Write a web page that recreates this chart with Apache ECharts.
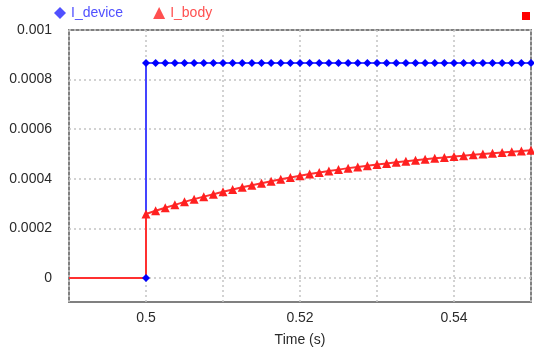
<!DOCTYPE html>
<html>
<head>
<meta charset="utf-8">
<script src="https://cdn.jsdelivr.net/npm/echarts@6/dist/echarts.min.js"></script>
<style>
  html, body { margin: 0; padding: 0; background: #fff; }
  #box { width: 534px; height: 352px; }
</style>
</head>
<body>
<div id="box"></div>
<script>
// step at t = 0.5 s: values before the step (first point has no marker)
const preTime = [0.49, 0.5]
const devicePre = [0, 0]
const bodyPre = [0, 0]

// sampled points after the step, every 0.00125 s
const time = [
  0.5, 0.50125, 0.5025, 0.50375, 0.505, 0.50625, 0.5075, 0.50875,
  0.51, 0.51125, 0.5125, 0.51375, 0.515, 0.51625, 0.5175, 0.51875,
  0.52, 0.52125, 0.5225, 0.52375, 0.525, 0.52625, 0.5275, 0.52875,
  0.53, 0.53125, 0.5325, 0.53375, 0.535, 0.53625, 0.5375, 0.53875,
  0.54, 0.54125, 0.5425, 0.54375, 0.545, 0.54625, 0.5475, 0.54875,
  0.55
]
const iDevice = [
  0.000867, 0.000867, 0.000867, 0.000867, 0.000867, 0.000867, 0.000867, 0.000867,
  0.000867, 0.000867, 0.000867, 0.000867, 0.000867, 0.000867, 0.000867, 0.000867,
  0.000867, 0.000867, 0.000867, 0.000867, 0.000867, 0.000867, 0.000867, 0.000867,
  0.000867, 0.000867, 0.000867, 0.000867, 0.000867, 0.000867, 0.000867, 0.000867,
  0.000867, 0.000867, 0.000867, 0.000867, 0.000867, 0.000867, 0.000867, 0.000867,
  0.000867
]
const iBody = [
  0.000258, 0.000271, 0.000283, 0.000295, 0.000307, 0.000318, 0.000328, 0.000338,
  0.000348, 0.000357, 0.000366, 0.000374, 0.000382, 0.000390, 0.000398, 0.000405,
  0.000412, 0.000419, 0.000425, 0.000431, 0.000437, 0.000443, 0.000448, 0.000453,
  0.000458, 0.000462, 0.000467, 0.000471, 0.000475, 0.000479, 0.000483, 0.000486,
  0.000490, 0.000493, 0.000497, 0.000500, 0.000503, 0.000506, 0.000509, 0.000512,
  0.000515
]

const xTicks = [0.5, 0.52, 0.54]
const yTicks = [0, 0.0002, 0.0004, 0.0006, 0.0008, 0.001]

const blue = '#0000ff'
const red = '#ff2020'

// pre-step points first, only the one at t = 0.5 gets a marker
function buildData (pre, vals) {
  const out = []
  preTime.forEach((t, i) => {
    out.push({ value: [t, pre[i]], symbol: i === 0 ? 'none' : undefined })
  })
  time.forEach((t, i) => out.push([t, vals[i]]))
  return out
}
const deviceData = buildData(devicePre, iDevice)
const bodyData = buildData(bodyPre, iBody).map((d, i) => i < 2 ? { value: d.value, symbol: 'none' } : d)

const labelFont = { color: '#2a2a2a', fontSize: 14, fontFamily: 'Liberation Sans, Arial, sans-serif' }
const dotted = { lineStyle: { color: '#c4c4c4', type: [2, 3], width: 1.5 } }

const myChart = echarts.init(document.getElementById('box'))
myChart.setOption({
  animation: false,
  grid: {
    left: 69, right: 3, top: 30, bottom: 50,
    outerBoundsMode: 'none',
    show: true, borderColor: '#808080', borderWidth: 2
  },
  legend: {
    left: 54, top: 6, padding: 0,
    itemWidth: 12, itemHeight: 12, itemGap: 30,
    data: [
      { name: 'I_device', icon: 'diamond', itemStyle: { color: '#5050ff' }, textStyle: { color: '#5050ff' } },
      { name: 'I_body', icon: 'triangle', itemStyle: { color: '#ff5050' }, textStyle: { color: '#ff5050' } }
    ],
    textStyle: { fontSize: 14, fontFamily: 'Liberation Sans, Arial, sans-serif' }
  },
  xAxis: {
    type: 'value',
    min: 0.49, max: 0.55, interval: 0.01,
    name: 'Time (s)', nameLocation: 'middle', nameGap: 31,
    nameTextStyle: labelFont,
    axisLine: { show: false },
    axisTick: { show: false },
    axisLabel: Object.assign({ customValues: xTicks, margin: 9, formatter: v => String(+v.toFixed(2)) }, labelFont),
    splitLine: Object.assign({ show: true }, dotted)
  },
  yAxis: {
    type: 'value',
    min: -0.0000968, max: 0.001,
    axisLine: { show: false },
    axisTick: { show: false, customValues: yTicks },
    axisLabel: Object.assign({ customValues: yTicks, margin: 17, formatter: v => String(+v.toFixed(4)) }, labelFont),
    splitLine: Object.assign({ show: true }, dotted)
  },
  graphic: [
    { type: 'rect', left: 522, top: 12, shape: { width: 8, height: 8 }, style: { fill: '#ff0000' } }
  ],
  series: [
    {
      name: 'I_device',
      type: 'line',
      data: deviceData,
      symbol: 'diamond',
      symbolSize: 8,
      showAllSymbol: true,
      lineStyle: { color: '#4444ff', width: 2 },
      itemStyle: { color: blue }
    },
    {
      name: 'I_body',
      type: 'line',
      data: bodyData,
      symbol: 'triangle',
      symbolSize: 9,
      showAllSymbol: true,
      lineStyle: { color: '#ff3030', width: 2 },
      itemStyle: { color: red }
    }
  ]
})
</script>
</body>
</html>
